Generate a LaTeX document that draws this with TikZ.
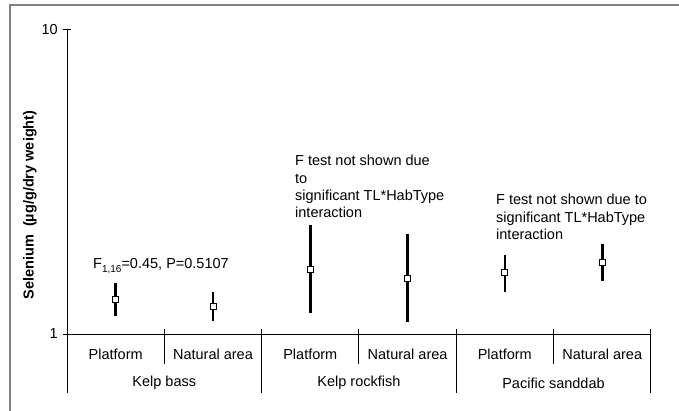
\documentclass[tikz,border=0pt]{standalone}
\usepackage{fontspec}
\setmainfont{Liberation Sans}
\usetikzlibrary{positioning}

\begin{document}
\begin{tikzpicture}[x=1pt,y=-1pt,
	lbl/.style={font=\fontsize{14.5}{16}\selectfont,inner sep=0pt},
	note/.style={font=\fontsize{14.5}{17.3}\selectfont,align=left,anchor=north west,inner sep=0pt},
	errbar/.style={line width=2.6pt},
	meanbox/.style={draw,fill=white,line width=0.8pt,minimum size=6pt,inner sep=0pt}]
	\useasboundingbox (0,0) rectangle (679,411);
	\draw[gray,line width=2.2pt] (10,411) -- (10,5) -- (679,5);
	% axes
	\draw[line width=1pt] (63,30) -- (71,30);
	\draw[line width=1pt] (67,30) -- (67,393);
	\draw[line width=1pt] (63,334) -- (650.8,334);
	\node[lbl,anchor=east] (t10) at (58,30) {10};
	\node[lbl,anchor=east] (t1) at (58,334) {1};
	\node[rotate=90,font=\fontsize{14.5}{16}\selectfont\bfseries] (ylab) at (30,205) {Selenium\ \ (µg/g/dry weight)};
	% category dividers
	\foreach \x in {164.3,358.9,553.5}
		\draw[line width=1pt] (\x,329) -- (\x,364);
	\foreach \x in {261.6,456.2,650.8}
		\draw[line width=1pt] (\x,329) -- (\x,393);
	\node[lbl] (kbP) at (115.7,354) {Platform};
	\node[lbl] (kbN) at (213,354) {Natural area};
	\node[lbl] (krP) at (310.3,354) {Platform};
	\node[lbl] (krN) at (407.6,354) {Natural area};
	\node[lbl] (sdP) at (504.8,354) {Platform};
	\node[lbl] (sdN) at (602.2,354) {Natural area};
	\node[lbl] (kb) at (164.3,383) {Kelp bass};
	\node[lbl] (kr) at (358.9,383) {Kelp rockfish};
	\node[lbl] (sd) at (553.5,383) {Pacific sanddab};
	% means and ranges
	\foreach \x/\lo/\m/\hi [count=\i] in {115.7/283/299/316, 213/292/306/321, 310.3/225/269/313,
			407.6/234/278/322, 504.8/255/272/292, 602.2/244/262/281} {
		\draw[errbar] (\x,\lo) -- (\x,\hi);
		\node[meanbox] (m\i) at (\x,\m) {};
	}
	\node[lbl,anchor=west] (ftest) at (93,266) {F\raisebox{-0.6ex}{\fontsize{10}{12}\selectfont 1,16}=0.45, P=0.5107};
	\node[note] (krnote) at (295,155) {F test not shown due\\to\\significant TL*HabType\\interaction};
	\node[note] (sdnote) at (496,194) {F test not shown due to\\significant TL*HabType\\interaction};
\end{tikzpicture}
\end{document}
